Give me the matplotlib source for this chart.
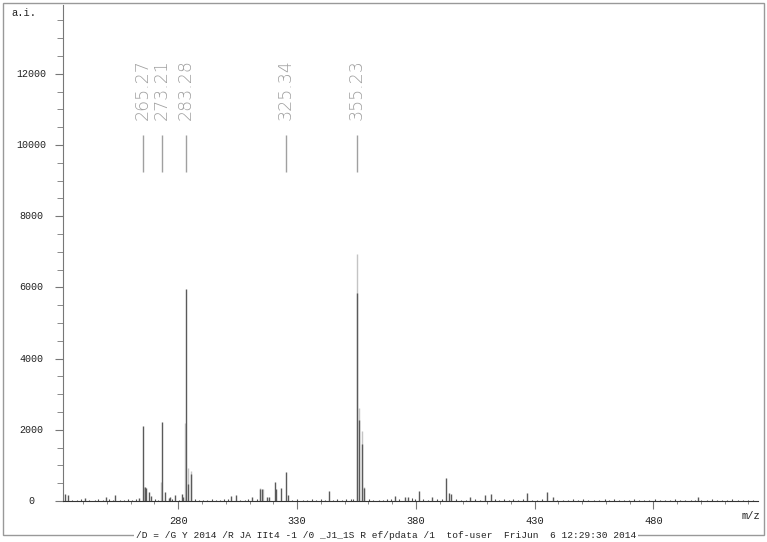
import matplotlib
matplotlib.use("Agg")
import matplotlib.pyplot as plt
from matplotlib.patches import Rectangle
from matplotlib.ticker import MultipleLocator
from matplotlib.transforms import blended_transform_factory

# labelled peaks
label_mz = [265.27, 273.21, 283.28, 325.34, 355.23]

# main (dark) spectrum sticks
peak_mz = [232.2, 233.5, 240.6, 249.6, 253.5, 263.5, 265.27, 266.1, 266.5, 267.5,
           268.5, 273.21, 274.4, 276.3, 276.6, 278.7, 281.5, 282.0, 283.28, 284.3,
           285.4, 302.4, 304.4, 311.2, 314.2, 315.3, 317.3, 318.4, 320.8, 321.2,
           323.3, 325.34, 326.2, 343.3, 355.23, 356.2, 357.2, 358.2, 371.2, 375.3,
           376.8, 381.2, 387.0, 392.9, 394.0, 395.0, 403.0, 409.3, 411.8, 426.8,
           435.0, 437.7, 498.7]
peak_int = [197, 170, 90, 100, 170, 85, 2100, 395, 365, 260,
            140, 2230, 250, 90, 120, 170, 200, 120, 5960, 480,
            760, 130, 170, 120, 330, 330, 110, 110, 540, 340,
            356, 820, 170, 280, 5840, 2270, 1600, 355, 140, 120,
            120, 280, 110, 655, 215, 200, 100, 170, 195, 225,
            260, 100, 120]

# lighter overlapping spectrum
light_mz = [265.7, 272.7, 282.9, 284.3, 285.4, 314.6, 315.5, 355.1, 356.2, 357.2, 358.0]
light_int = [380, 540, 2200, 925, 840, 360, 350, 6950, 2600, 1960, 380]

# noise floor
noise_mz = [235.1, 237.4, 239.0, 242.3, 244.8, 246.1, 248.2, 251.0, 252.4, 255.6,
            257.2, 259.0, 260.7, 262.1, 270.3, 271.6, 277.5, 280.2, 287.0, 288.6,
            290.3, 292.1, 294.0, 295.7, 297.4, 299.2, 301.0, 306.1, 307.9, 309.5,
            313.0, 328.0, 330.1, 332.4, 334.0, 336.2, 338.1, 340.0, 341.7, 345.2,
            347.0, 349.1, 350.8, 352.5, 353.6, 360.1, 362.0, 364.3, 366.1, 368.0,
            369.6, 373.0, 378.4, 379.7, 383.0, 385.1, 389.0, 390.8, 397.0, 399.1,
            401.2, 405.0, 407.2, 413.5, 415.2, 417.0, 419.1, 421.0, 423.0, 425.0,
            429.0, 431.0, 433.1, 439.6, 441.8, 444.0, 446.1, 448.2, 450.3, 452.6,
            455.0, 457.1, 459.4, 461.5, 463.2, 465.4, 467.5, 469.7, 471.8, 474.0,
            476.1, 478.3, 480.5, 482.6, 484.8, 487.0, 489.1, 491.3, 493.4, 495.6,
            497.3, 500.2, 502.4, 504.6, 506.7, 508.9, 511.0, 513.2, 515.4, 517.5,
            519.7, 521.9]
noise_int = [40, 30, 55, 35, 25, 45, 30, 60, 35, 40,
             25, 50, 30, 45, 60, 40, 50, 35, 45, 30,
             40, 25, 50, 35, 30, 45, 55, 40, 30, 50,
             45, 35, 60, 40, 30, 45, 35, 50, 40, 30,
             55, 35, 45, 60, 70, 50, 40, 35, 30, 45,
             55, 60, 80, 70, 45, 40, 50, 60, 45, 35,
             40, 50, 35, 45, 40, 55, 35, 50, 40, 45,
             35, 30, 45, 35, 40, 30, 45, 35, 50, 30,
             40, 35, 45, 30, 50, 35, 40, 30, 45, 35,
             40, 30, 45, 35, 40, 30, 45, 35, 40, 30,
             35, 40, 30, 45, 35, 40, 30, 45, 35, 40,
             30, 35]

y_ticks = [0, 2000, 4000, 6000, 8000, 10000, 12000]
x_ticks = [280, 330, 380, 430, 480]
footer = "/D = /G Y 2014 /R JA IIt4 -1 /0 _J1_1S R ef/pdata /1  tof-user  FriJun  6 12:29:30 2014"

mono = "Liberation Mono"

fig = plt.figure(figsize=(7.67, 5.42), dpi=100)
ax = fig.add_axes([63 / 767, 41 / 542, 695 / 767, 496 / 542])

ax.vlines(light_mz, 0, light_int, color="#c4c4c4", lw=1.0)
ax.vlines(noise_mz, 0, noise_int, color="#505050", lw=0.8)
ax.vlines(peak_mz, 0, peak_int, color="#5a5a5a", lw=1.0)

# peak annotations
for mz in label_mz:
    ax.vlines(mz, 9250, 10280, color="#a0a0a0", lw=1.0)
    ax.text(mz, 10700, f"{mz:.2f}", rotation=90, ha="center", va="bottom",
            color="#a0a0a0", fontsize=12.5, fontweight="light")

ax.set_xlim(231.5, 524)
ax.set_ylim(0, 13930)

ax.spines["top"].set_visible(False)
ax.spines["right"].set_visible(False)
ax.spines["left"].set_color("#777777")
ax.spines["bottom"].set_color("#333333")

ax.set_yticks(y_ticks)
ax.yaxis.set_minor_locator(MultipleLocator(500))
ax.set_xticks(x_ticks)
ax.xaxis.set_minor_locator(MultipleLocator(10))
ax.tick_params(axis="y", which="major", length=6, color="#777777", labelleft=False)
ax.tick_params(axis="y", which="minor", length=4.5, color="#777777")
ax.tick_params(axis="x", which="major", length=6, color="#777777", pad=5,
               labelsize=7.5, labelcolor="#222222")
ax.tick_params(axis="x", which="minor", length=2.5, color="#777777")
for lab in ax.get_xticklabels():
    lab.set_fontfamily(mono)

# y tick labels centred in the left margin
ytrans = blended_transform_factory(ax.transAxes, ax.transData)
for v in y_ticks:
    ax.text(-32 / 695, v, str(v), transform=ytrans, ha="center", va="center",
            fontsize=7.2, family=mono, color="#222222", clip_on=False)

fig.text(24 / 767, 1 - 13 / 542, "a.i.", ha="center", va="center",
         fontsize=7.5, family=mono, color="#222222")
fig.text(751 / 767, 1 - 516 / 542, "m/z", ha="center", va="center",
         fontsize=7.5, family=mono, color="#222222")

# outer frame with footer text
fig.add_artist(Rectangle((3 / 767, 7 / 542), 761 / 767, 532 / 542,
                         transform=fig.transFigure, fill=False,
                         edgecolor="#999999", lw=1.0))
fig.text(386 / 767, 7 / 542, footer, ha="center", va="center", fontsize=6.8,
         family=mono, color="#222222",
         bbox=dict(facecolor="white", edgecolor="none", pad=1.5))

fig.savefig("out.png", dpi=100)
